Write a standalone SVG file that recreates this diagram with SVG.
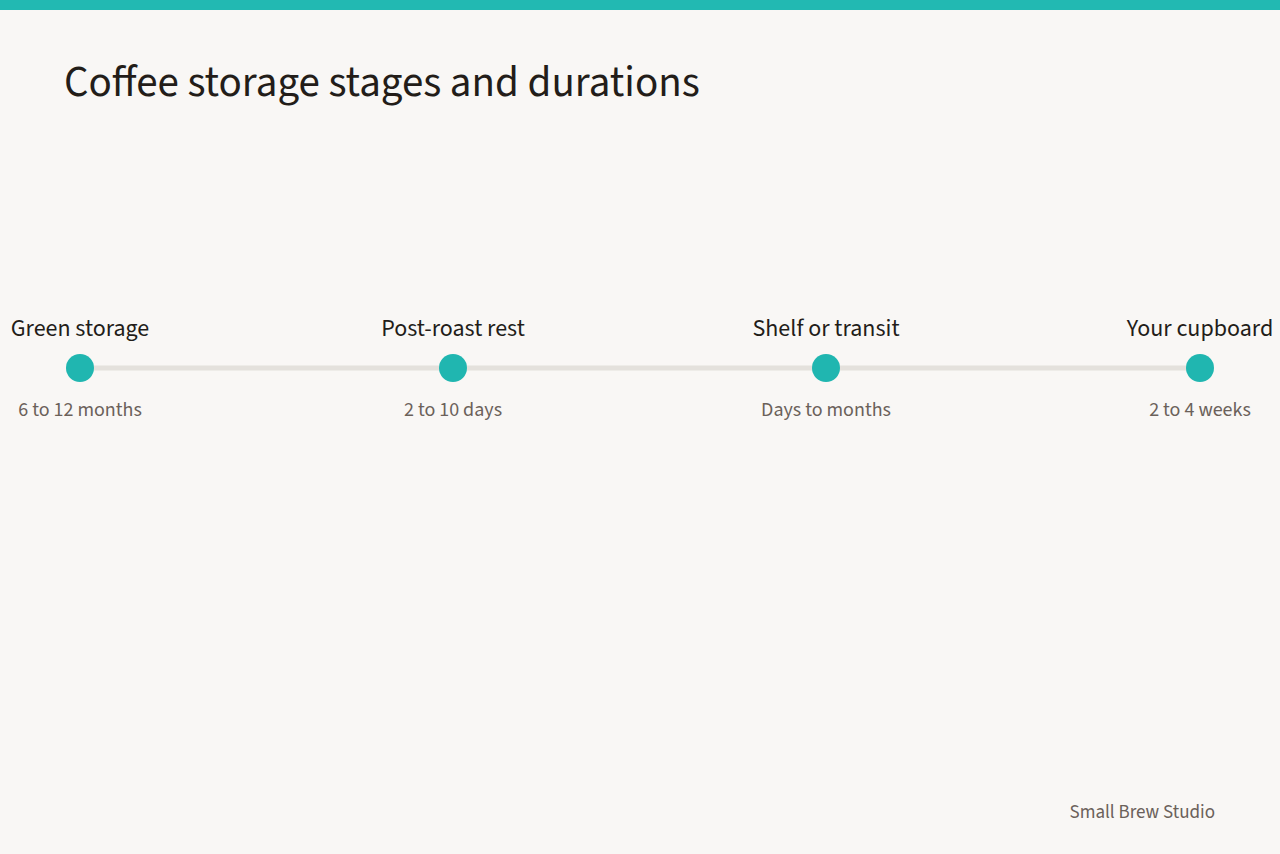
<svg xmlns="http://www.w3.org/2000/svg" width="1280" height="854" viewBox="0 0 1280 854">
<style>
.t{font-family:"Source Sans 3","Source Sans Pro",Lato,"Noto Sans",sans-serif}
.title{font-size:43px;fill:#231d19}
.stage{font-size:24px;fill:#231d19;text-anchor:middle}
.dur{font-size:20px;fill:#6b615a;text-anchor:middle}
.foot{font-size:19px;fill:#6b615a;text-anchor:end}
.dot{fill:#20b6b0}
</style>
<rect width="1280" height="854" fill="#f9f7f5"/>
<rect width="1280" height="10" fill="#22b9b2"/>
<text class="t title" x="64" y="96">Coffee storage stages and durations</text>
<g id="connectors">
<line x1="80" y1="368" x2="1200" y2="368" stroke="#e4e1dc" stroke-width="5"/>
</g>
<g id="node-green">
<circle class="dot" cx="80" cy="368" r="14"/>
<text class="t stage" x="80" y="336">Green storage</text>
<text class="t dur" x="80" y="416">6 to 12 months</text>
</g>
<g id="node-rest">
<circle class="dot" cx="453" cy="368" r="14"/>
<text class="t stage" x="453" y="336">Post-roast rest</text>
<text class="t dur" x="453" y="416">2 to 10 days</text>
</g>
<g id="node-shelf">
<circle class="dot" cx="826" cy="368" r="14"/>
<text class="t stage" x="826" y="336">Shelf or transit</text>
<text class="t dur" x="826" y="416">Days to months</text>
</g>
<g id="node-cupboard">
<circle class="dot" cx="1200" cy="368" r="14"/>
<text class="t stage" x="1200" y="336">Your cupboard</text>
<text class="t dur" x="1200" y="416">2 to 4 weeks</text>
</g>
<text class="t foot" x="1215" y="818">Small Brew Studio</text>
</svg>
